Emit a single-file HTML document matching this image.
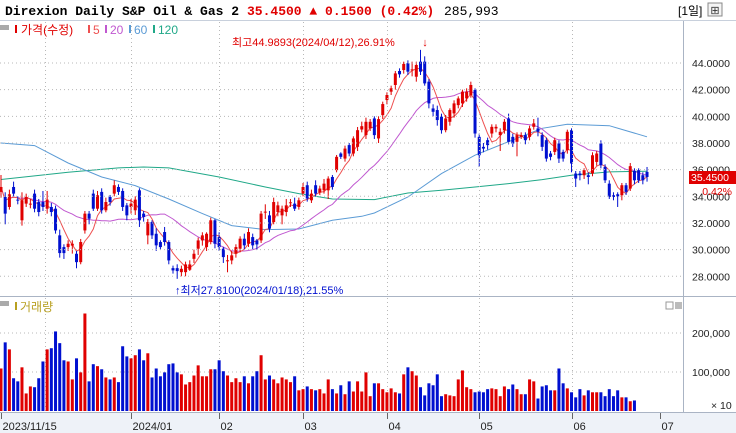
<!DOCTYPE html>
<html><head><meta charset="utf-8">
<style>
html,body{margin:0;padding:0;background:#fff;}
#wrap{position:relative;width:736px;height:433px;overflow:hidden;background:#fff;font-family:"Liberation Sans","Noto Sans CJK KR",sans-serif;}
svg text{font-family:"Liberation Sans","Noto Sans CJK KR",sans-serif;}
</style></head>
<body>
<div id="wrap">
<svg id="chart" width="736" height="433" xmlns="http://www.w3.org/2000/svg">
  <rect x="0" y="0" width="736" height="433" fill="#fff"/>
  <g>
    <rect x="0" y="0" width="736" height="20" fill="#fff"/>
    <line x1="0" y1="20.5" x2="736" y2="20.5" stroke="#c8d0dc"/>
    <text x="5" y="15" font-family="Liberation Mono,monospace" font-weight="bold" font-size="13" fill="#000" style="font-family:'Liberation Mono',monospace">Direxion Daily S&amp;P Oil &amp; Gas 2</text>
    <text x="247" y="15" font-weight="bold" font-size="13" fill="#e00000" style="font-family:'Liberation Mono',monospace">35.4500 ▲ 0.1500 (0.42%)</text>
    <text x="444" y="15" font-size="13" fill="#000" style="font-family:'Liberation Mono',monospace">285,993</text>
    <text x="678" y="15" font-size="12" fill="#000">[1일]</text>
    <rect x="708" y="3" width="14" height="13" fill="#f4f4f4" stroke="#888"/>
    <text x="715" y="14" font-size="11" text-anchor="middle" fill="#333">⊞</text>
  </g>
</svg>
</div>
<script>
const opens=[34.33,33.95,33.2,34.7,33.75,32.2,33.45,33.45,34.2,33.57,33.57,33.07,33.2,33.07,31.07,30.19,30.19,30.3,29.69,29.06,31.44,32.7,34.2,33.07,34.33,32.95,33.95,34.2,34.7,34.4,33.32,33.2,32.95,34.45,32.7,31.07,32.07,31.19,30.57,31.32,30.57,28.61,28.61,28.31,28.31,28.49,29.31,30.07,30.69,30.19,30.57,32.2,30.94,30.07,29.19,29.19,29.69,30.07,30.82,30.44,30.94,30.69,30.69,32.8,32.57,32.07,32.82,32.57,32.82,33.5,33.45,33.2,34.2,34.83,33.7,34.83,34.28,34.45,34.45,35.45,35.96,37.21,36.83,37.84,37.21,37.71,39.01,38.59,39.09,39.84,38.34,40.09,41.22,41.85,42.35,43.4,43.47,43.98,43.52,42.97,44.1,44.1,42.6,40.59,40.47,39.97,38.96,39.59,40.22,40.84,40.97,41.34,41.6,41.97,38.46,37.71,38.21,38.71,39.09,38.59,38.96,39.84,38.46,38.09,38.46,38.59,38.46,39.21,39.09,38.59,38.21,37.21,37.33,37.96,37.33,37.46,38.96,35.71,35.71,35.58,35.58,35.71,36.58,37.96,36.21,34.95,34.08,34.15,34.08,34.83,34.58,35.91,35.96,35.58,35.83];
const closes=[34.7,32.7,34.15,34.2,33.7,33.7,33.95,33.45,33.07,32.82,33.2,33.75,32.82,31.44,29.74,29.74,30.44,30.44,29.06,30.57,32.7,32.32,33.07,34.08,32.95,33.57,33.57,34.83,34.33,33.2,32.57,33.45,33.75,32.2,32.45,32.07,31.07,30.32,30.19,30.57,29.19,28.44,28.39,28.56,28.89,28.89,29.69,30.69,31.07,31.19,32.2,30.44,30.19,29.44,29.2,29.57,30.19,30.82,30.32,31.32,30.32,30.39,32.7,32.85,31.57,33.57,33.32,33.07,33.32,33.55,33.07,33.7,34.7,33.83,34.2,34.2,34.58,34.95,35.33,34.7,36.96,36.96,37.58,37.21,38.34,38.96,39.26,39.59,39.59,38.59,39.79,40.92,41.6,42.1,43.22,43.15,43.93,43.35,43.52,43.85,43.35,42.47,40.97,40.34,39.72,38.96,39.84,40.47,40.97,41.34,41.85,41.85,42.35,38.71,37.08,37.58,37.84,39.21,39.21,38.84,39.59,38.09,37.96,38.59,38.59,38.21,39.09,39.47,38.84,37.71,36.83,36.96,38.21,36.83,36.83,38.84,36.46,35.33,35.58,35.96,35.45,37.08,37.21,36.33,35.2,33.95,33.95,34.0,34.83,34.33,36.26,35.2,35.2,35.2,35.45];
const highs=[35.6,34.3,34.5,35.1,34.0,34.3,34.2,33.8,34.5,33.8,34.4,34.4,33.5,33.3,31.5,30.4,30.7,30.7,29.9,30.8,32.9,32.9,34.5,34.4,34.6,33.9,34.1,35.2,34.9,34.6,33.5,33.8,34.0,34.6,32.9,32.3,32.2,31.6,30.7,31.7,30.7,28.8,28.9,28.8,29.1,29.2,30.0,30.9,31.3,31.3,32.4,32.3,31.3,30.2,29.6,29.9,30.4,31.0,31.2,31.6,31.2,30.8,32.9,33.4,32.9,33.9,33.6,33.3,33.8,33.8,33.9,33.9,35.0,35.1,34.5,35.2,34.8,35.3,35.5,35.6,37.1,37.3,37.8,38.0,38.5,39.2,39.6,39.9,39.8,40.0,40.0,41.1,41.8,42.3,43.4,43.6,44.1,44.2,44.1,44.1,44.98,44.5,42.8,40.9,40.8,40.2,40.1,40.6,41.2,41.5,42.0,42.1,42.6,42.1,38.7,38.0,38.4,39.4,39.4,39.1,39.8,40.2,38.7,38.8,38.8,38.8,39.3,39.8,39.9,38.8,38.4,37.4,38.4,38.2,37.5,39.0,39.1,35.9,35.9,36.1,35.8,37.3,37.4,38.2,36.4,35.2,34.3,34.3,35.0,35.0,36.5,36.1,36.1,35.8,36.2];
const lows=[33.9,31.9,33.0,34.0,33.4,31.8,33.2,33.1,32.8,32.5,32.9,32.7,32.5,31.2,29.4,29.3,29.9,29.7,28.6,28.9,31.2,31.9,32.9,32.9,32.7,32.8,33.3,34.0,34.1,32.9,32.2,32.7,32.6,31.7,32.1,30.4,30.8,29.9,30.0,30.3,28.9,28.2,27.81,28.0,28.0,28.4,29.0,29.6,30.3,29.9,30.4,30.1,29.9,29.0,28.3,28.9,29.4,29.8,30.0,30.2,30.0,30.0,30.5,32.3,31.3,31.9,32.5,31.9,32.5,33.2,32.9,33.0,34.0,33.6,33.5,34.0,34.1,34.2,33.8,34.5,35.8,36.8,36.6,37.0,37.0,37.4,38.8,38.3,38.9,38.3,38.0,39.8,40.9,41.6,42.0,42.9,43.2,43.1,43.0,42.6,43.1,42.3,40.6,40.0,39.3,38.7,38.8,39.3,39.9,40.6,40.7,41.1,41.4,38.4,36.2,37.3,37.5,38.4,38.8,37.4,38.7,37.9,37.7,37.0,38.3,37.9,38.2,39.0,38.5,37.4,36.6,36.7,37.1,36.5,36.6,37.2,35.8,34.7,35.2,35.3,34.9,35.5,36.3,36.1,35.0,33.8,33.7,33.2,33.7,34.1,34.4,34.9,35.0,34.9,35.1];
const volumes=[109,176,158,84,76,112,45,63,61,84,127,158,161,204,174,130,127,81,135,99,250,76,120,115,107,86,81,86,74,166,140,135,143,158,130,148,86,109,89,99,120,122,99,94,68,74,91,117,89,89,107,107,130,102,91,74,84,74,89,71,89,102,143,81,91,81,71,86,81,74,89,53,56,63,56,53,56,45,81,56,45,66,43,76,50,76,50,99,38,71,71,56,48,58,48,45,94,112,102,91,61,40,71,66,94,38,43,40,38,81,104,61,56,48,50,48,56,58,56,38,63,56,68,56,43,43,81,76,32,63,66,53,53,109,71,58,48,35,56,40,53,48,48,48,38,56,38,53,35,35,25,27];
const ma60Idx=[0,8,16,24,32,40,48,55,63,71,79,86,89,97,105,113,121,129,135,145,154];
const ma60Val=[38.0,37.8,36.5,35.45,34.8,33.8,32.7,31.8,31.5,31.55,32.2,32.5,32.75,33.95,35.7,37.08,38.1,39.1,39.4,39.3,38.46];
const ma120Idx=[0,16,28,34,40,52,63,71,79,89,97,105,113,121,129,136,145,154];
const ma120Val=[35.26,35.8,36.13,36.2,36.13,35.45,34.7,34.2,33.8,33.75,34.25,34.45,34.7,34.95,35.25,35.58,35.83,35.88];
const priceTicks=[44,42,40,38,36,34,32,30,28];
const volTicks=[200000,100000];
const dateLabels=["2023/11/15","2024/01","02","03","04","05","06","07"];
const dateIdx=[0,31,52,72,92,114,136,157];
const gridOnlyIdx=[10.5];

const NS="http://www.w3.org/2000/svg";
const svg=document.getElementById('chart');
const PLOT_R=683;
function xs(i){return 1+i*4.195;}
function yp(p){return 63+(44-p)*13.33;}
function yv(v){return 411-v/100000*39;}
function el(tag,attrs,parent){const e=document.createElementNS(NS,tag);for(const k in attrs)e.setAttribute(k,attrs[k]);(parent||svg).appendChild(e);return e;}

// panels
const pricePanel=el('g',{});


el('line',{x1:PLOT_R+0.5,y1:21,x2:PLOT_R+0.5,y2:413,stroke:'#aab4c4'});
el('line',{x1:0,y1:296.5,x2:736,y2:296.5,stroke:'#aab4c4'});
el('rect',{x:0,y:413,width:736,height:20,fill:'#eef2f8'});
el('line',{x1:0,y1:412.5,x2:736,y2:412.5,stroke:'#aab4c4'});

// grid
priceTicks.forEach(p=>{
  el('line',{x1:0,y1:yp(p),x2:PLOT_R,y2:yp(p),stroke:'#b8b8b8','stroke-dasharray':'1,3'});
  const t=el('text',{x:692,y:yp(p)+4,'font-size':'10.5',fill:'#222'});
  t.textContent=p.toFixed(4);
  
  
});
volTicks.forEach(v=>{
  el('line',{x1:0,y1:yv(v),x2:PLOT_R,y2:yv(v),stroke:'#b8b8b8','stroke-dasharray':'1,3'});
  const t=el('text',{x:692,y:yv(v)+4,'font-size':'10.5',fill:'#222'});
  t.textContent=v.toLocaleString('en-US');
  
  
});
dateIdx.concat(gridOnlyIdx).forEach((d,k)=>{
  const x=Math.round(xs(d))+0.5;
  if(k>0&&k<dateIdx.length-1||k>=dateIdx.length){
    el('line',{x1:x,y1:22,x2:x,y2:296,stroke:'#b8b8b8','stroke-dasharray':'1,3'});
    el('line',{x1:x,y1:298,x2:x,y2:412,stroke:'#b8b8b8','stroke-dasharray':'1,3'});
  }
});
dateLabels.forEach((lab,k)=>{
  const x=Math.round(xs(dateIdx[k]))+0.5;
  el('line',{x1:x,y1:413,x2:x,y2:419,stroke:'#666'});
  const t=el('text',{x:x+1,y:430,'font-size':'11',fill:'#222'});
  t.textContent=lab;
  
  
});
const x10=el('text',{x:711,y:409,'font-size':'10.5',fill:'#222'});x10.textContent='× 10';



// moving averages
function maSeries(n){return closes.map((c,i)=>{const s=Math.max(0,i-n+1);let t=0;for(let j=s;j<=i;j++)t+=closes[j];return t/(i-s+1);});}
function poly(idx,vals,color,name){
  const pts=idx.map((i,k)=>xs(i).toFixed(1)+','+yp(vals[k]).toFixed(1)).join(' ');
  const l=el('polyline',{points:pts,fill:'none',stroke:color,'stroke-width':'1'},pricePanel);
  
  
}
poly(ma120Idx,ma120Val,'#20a888','ma120-line');
poly(ma60Idx,ma60Val,'#5b9bd5','ma60-line');
const m20=maSeries(20),m5=maSeries(5);
poly(closes.map((c,i)=>i),m20,'#c058d0','ma20-line');
poly(closes.map((c,i)=>i),m5,'#ee5050','ma5-line');

// candles
closes.forEach((c,i)=>{
  const o=opens[i],up=c>=o,col=up?'#e00000':'#0010d0';
  const x=xs(i),g=el('g',{},pricePanel);
  
  
  el('line',{x1:x,y1:yp(highs[i]),x2:x,y2:yp(lows[i]),stroke:col,'stroke-width':'1'},g);
  const top=yp(Math.max(o,c)),h=Math.max(1,yp(Math.min(o,c))-top);
  el('rect',{x:x-1.5,y:top,width:3,height:h,fill:col},g);
});
// volume
volumes.forEach((v,i)=>{
  const up=i<closes.length?closes[i]>=opens[i]:true;
  const r=el('rect',{x:xs(i)-1.5,y:yv(v*1000),width:3,height:411-yv(v*1000),fill:up?'#e00000':'#0010d0'});
  
  
});

// legends & annotations
function txt(x,y,s,size,fill,name,anchor){const t=el('text',{x:x,y:y,'font-size':size,fill:fill});if(anchor)t.setAttribute('text-anchor',anchor);t.textContent=s;return t;}
el('rect',{x:0,y:25,width:9,height:5,fill:'#aaa'});
el('rect',{x:15,y:25,width:2,height:8,fill:'#e00000'});
txt(21,34,'가격(수정)',12,'#e00000','price-legend');
el('rect',{x:88,y:25,width:2,height:8,fill:'#ee5050'});txt(93,34,'5',12,'#ee5050','legend-ma5');
el('rect',{x:105,y:25,width:2,height:8,fill:'#c058d0'});txt(110,34,'20',12,'#c058d0','legend-ma20');
el('rect',{x:129,y:25,width:2,height:8,fill:'#5b9bd5'});txt(134,34,'60',12,'#5b9bd5','legend-ma60');
el('rect',{x:153,y:25,width:2,height:8,fill:'#20a888'});txt(158,34,'120',12,'#20a888','legend-ma120');
el('rect',{x:0,y:301,width:9,height:5,fill:'#aaa'});
el('rect',{x:15,y:302,width:2,height:8,fill:'#b8a020'});
txt(20,311,'거래량',12,'#b8a020','volume-legend');
el('rect',{x:666,y:302,width:7,height:7,fill:'none',stroke:'#999'});
el('rect',{x:675,y:302,width:7,height:7,fill:'#bbb'});
txt(232,46,'최고44.9893(2024/04/12),26.91%',11,'#e00000','high-annotation');
txt(425,46,'↓',11,'#e00000','high-arrow','middle');
txt(175,294,'↑최저27.8100(2024/01/18),21.55%',11,'#0010d0','low-annotation');
// current price tag
const tag=el('rect',{x:689,y:171,width:47,height:13,fill:'#e00000'});


txt(691,181,'35.4500',10.5,'#fff','current-price-value');
txt(732,195,'0.42%',10.5,'#e00000','current-change-pct','end');
</script>
</body></html>
